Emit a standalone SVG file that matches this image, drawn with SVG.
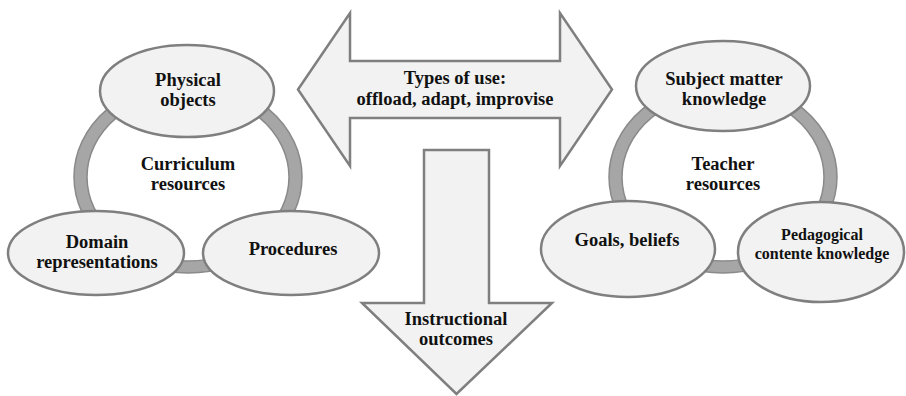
<svg xmlns="http://www.w3.org/2000/svg" width="906" height="396" viewBox="0 0 906 396">
  <style>
    .ring { fill: #a6a6a6; fill-rule: evenodd; stroke: #8a8a8a; stroke-width: 1.5; }
    .node { fill: #f2f2f2; stroke: #7f7f7f; stroke-width: 2.5; }
    .arrow { fill: #f2f2f2; stroke: #7f7f7f; stroke-width: 2.5; stroke-linejoin: miter; }
    .label { font-family: 'Liberation Serif', serif; font-weight: 700; font-size: 18.5px; fill: #111111; text-anchor: middle; }
    .small { font-size: 16px; }
  </style>
  <rect width="906" height="396" fill="#ffffff"/>

  <!-- resource rings -->
  <g id="curriculum-ring">
    <path class="ring" d="M74,177 a114,96 0 1,0 228,0 a114,96 0 1,0 -228,0 Z M87,177 a101,84 0 1,0 202,0 a101,84 0 1,0 -202,0 Z"/>
    <text class="label" x="188" y="170">Curriculum</text>
    <text class="label" x="188" y="190">resources</text>
  </g>
  <g id="teacher-ring">
    <path class="ring" d="M609,177 a114,96 0 1,0 228,0 a114,96 0 1,0 -228,0 Z M622,177 a101,84 0 1,0 202,0 a101,84 0 1,0 -202,0 Z"/>
    <text class="label" x="723" y="170">Teacher</text>
    <text class="label" x="723" y="190">resources</text>
  </g>

  <!-- connectors: flow arrows -->
  <g id="connectors">
    <g id="types-of-use">
      <polygon class="arrow" points="298,89.5 350,13 350,61 560,61 560,13 612,89.5 560,166 560,118 350,118 350,166"/>
      <text class="label" x="455" y="84">Types of use:</text>
      <text class="label" x="455" y="105">offload, adapt, improvise</text>
    </g>
    <g id="instructional-outcomes">
      <polygon class="arrow" points="424,150 489,150 489,303 552,303 456.5,394 362,303 424,303"/>
      <text class="label" x="456" y="325">Instructional</text>
      <text class="label" x="456" y="345">outcomes</text>
    </g>
  </g>

  <!-- curriculum resources -->
  <g id="physical-objects">
    <ellipse class="node" cx="187" cy="91" rx="87" ry="46"/>
    <text class="label" x="188" y="86">Physical</text>
    <text class="label" x="188" y="106">objects</text>
  </g>
  <g id="domain-representations">
    <ellipse class="node" cx="96" cy="253" rx="88" ry="42"/>
    <text class="label" x="97" y="248">Domain</text>
    <text class="label" x="97" y="268">representations</text>
  </g>
  <g id="procedures">
    <ellipse class="node" cx="291" cy="253" rx="88" ry="42"/>
    <text class="label" x="293" y="255">Procedures</text>
  </g>

  <!-- teacher resources -->
  <g id="subject-matter-knowledge">
    <ellipse class="node" cx="723" cy="86" rx="87" ry="45"/>
    <text class="label" x="724" y="85">Subject matter</text>
    <text class="label" x="724" y="105">knowledge</text>
  </g>
  <g id="goals-beliefs">
    <ellipse class="node" cx="628" cy="249" rx="87" ry="48"/>
    <text class="label" x="627" y="246">Goals, beliefs</text>
  </g>
  <g id="pedagogical-content-knowledge">
    <ellipse class="node" cx="821" cy="252" rx="83" ry="50"/>
    <text class="label small" x="822" y="240">Pedagogical</text>
    <text class="label small" x="822" y="259">contente knowledge</text>
  </g>
</svg>
